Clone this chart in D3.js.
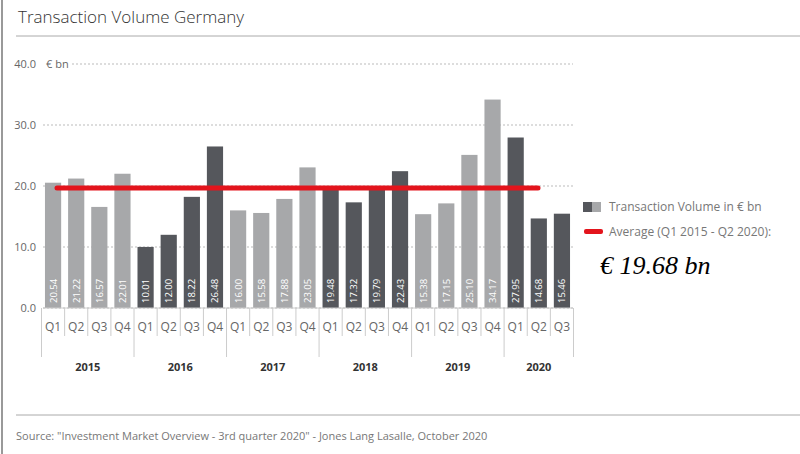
<!DOCTYPE html>
<html><head><meta charset="utf-8">
<script src="https://cdn.jsdelivr.net/npm/d3@7"></script>
<style>body{margin:0;background:#fff}svg{display:block;font-family:"Open Sans",sans-serif}</style>
</head><body><svg width="800" height="454"></svg>
<script>
const years=["2015","2016","2017","2018","2019","2020"];
const quarters=["Q1","Q2","Q3","Q4"];
const values=[20.54,21.22,16.57,22.01,10.01,12.00,18.22,26.48,16.00,15.58,17.88,23.05,19.48,17.32,19.79,22.43,15.38,17.15,25.10,34.17,27.95,14.68,15.46];
const yTicks=[0,10,20,30,40];
const average=19.68;
const LIGHT="#a7a8aa",DARK="#55575c";
const svg=d3.select("svg");
const data=values.map((v,i)=>({v,i,y:Math.floor(i/4),q:quarters[i%4]}));
const x=d3.scaleBand().domain(d3.range(values.length)).range([41.5,573.5]).paddingInner(0.3).paddingOuter(0.15);
const y=d3.scaleLinear().domain([0,40]).range([308,64]);
svg.append("line").attr("x1",2).attr("x2",2).attr("y1",0).attr("y2",454).attr("stroke","#999").attr("stroke-width",2);
svg.append("text").attr("x",18).attr("y",23).attr("font-size",17).attr("font-weight",300).attr("fill","#333").text("Transaction Volume Germany");
svg.append("line").attr("x1",16).attr("x2",800).attr("y1",36).attr("y2",36).attr("stroke","#aaa");
svg.append("line").attr("x1",16).attr("x2",800).attr("y1",415).attr("y2",415).attr("stroke","#aaa");
svg.append("text").attr("x",16).attr("y",440).attr("font-size",11).attr("fill","#777").text("Source: \"Investment Market Overview - 3rd quarter 2020\" - Jones Lang Lasalle, October 2020");
yTicks.forEach(t=>{
 svg.append("line").attr("x1",t===40?72:43).attr("x2",573).attr("y1",y(t)).attr("y2",y(t)).attr("stroke","#bbb").attr("stroke-dasharray","2,2");
 svg.append("text").attr("x",36).attr("y",y(t)+4).attr("text-anchor","end").attr("font-size",11).attr("fill","#666").text(t.toFixed(1));
});
svg.append("text").attr("x",46).attr("y",y(40)+4).attr("font-size",11).attr("fill","#666").text("€ bn");
svg.selectAll("rect.bar").data(data).join("rect").attr("x",d=>x(d.i)).attr("width",x.bandwidth())
 .attr("y",d=>y(d.v)).attr("height",d=>y(0)-y(d.v)).attr("fill",d=>d.y%2?DARK:LIGHT);
svg.selectAll("text.val").data(data).join("text").attr("transform",d=>`translate(${x(d.i)+x.bandwidth()/2+3.5},303) rotate(-90)`)
 .attr("font-size",9.5).attr("fill","#fff").text(d=>d.v.toFixed(2));
const step=x.step();
svg.append("line").attr("x1",43).attr("x2",573).attr("y1",308).attr("y2",308).attr("stroke","#ccc");
d3.range(values.length+1).forEach(i=>{
 const xx=x(0)-x.step()*x.paddingInner()/2+i*step;
 const big=i%4===0||i===values.length;
 svg.append("line").attr("x1",xx).attr("x2",xx).attr("y1",308).attr("y2",big?357:336).attr("stroke","#ccc");
});
svg.selectAll("text.q").data(data).join("text").attr("x",d=>x(d.i)+x.bandwidth()/2).attr("y",331).attr("text-anchor","middle")
 .attr("font-size",12).attr("fill","#666").text(d=>d.q);
years.forEach((yr,k)=>{
 const idx=data.filter(d=>d.y===k);
 const cx=(x(idx[0].i)+x(idx[idx.length-1].i)+x.bandwidth())/2;
 svg.append("text").attr("x",cx).attr("y",371).attr("text-anchor","middle").attr("font-size",11).attr("font-weight","bold").attr("fill","#333").text(yr);
});
svg.append("line").attr("x1",57).attr("x2",538).attr("y1",y(average)).attr("y2",y(average)).attr("stroke","#e3141c").attr("stroke-width",5).attr("stroke-linecap","round");
svg.append("rect").attr("x",583).attr("y",202).attr("width",9).attr("height",10).attr("fill",DARK);
svg.append("rect").attr("x",592).attr("y",202).attr("width",9).attr("height",10).attr("fill",LIGHT);
svg.append("text").attr("x",609).attr("y",211).attr("font-size",12).attr("fill","#777").text("Transaction Volume in € bn");
svg.append("rect").attr("x",584).attr("y",229).attr("width",19).attr("height",5).attr("rx",2).attr("fill","#e3141c");
svg.append("text").attr("x",609).attr("y",236).attr("font-size",12).attr("fill","#777").text("Average  (Q1 2015 - Q2 2020):");
svg.append("text").attr("x",600).attr("y",274).attr("font-size",26).attr("font-style","italic").attr("font-family","Liberation Serif, serif").attr("fill","#000").text("€ 19.68 bn");
</script></body></html>
